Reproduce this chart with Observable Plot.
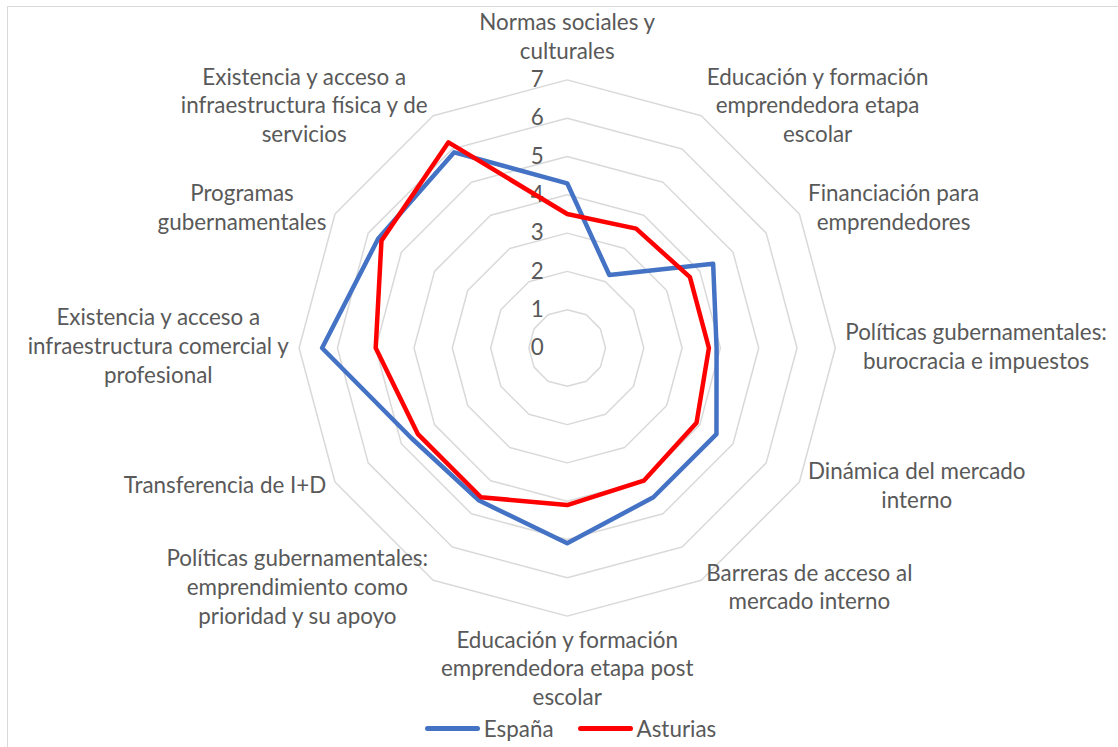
<!DOCTYPE html>
<html>
<head>
<meta charset="utf-8">
<script src="https://cdn.jsdelivr.net/npm/d3@7"></script>
<script src="https://cdn.jsdelivr.net/npm/@observablehq/plot@0.6"></script>
<style>
  body { margin: 0; background: #fff; font-family: Lato, sans-serif; }
  #wrap { position: relative; width: 1118px; height: 747px; overflow: hidden; background: #fff; }
  #frame { position: absolute; left: 7px; top: 6px; right: -20px; bottom: -20px;
           border-left: 1.5px solid #d9d9d9; border-top: 1.5px solid #d9d9d9; }
  #chart { position: absolute; left: 0; top: 0; }
  #legend { position: absolute; left: 23px; width: 1095px; top: 712px; height: 32px;
            display: flex; justify-content: center; align-items: center;
            color: #595959; font-family: Lato, sans-serif; }
  .sw { display: inline-block; width: 55px; height: 5px; border-radius: 3px; margin-right: 4px; }
  .item { display: flex; align-items: center; margin: 0 12px; }
</style>
</head>
<body>
<div id="wrap"><div id="frame"></div><div id="chart"></div><div id="legend"></div></div>
<script>
const categories = [
  "Normas sociales y\nculturales",
  "Educación y formación\nemprendedora etapa\nescolar",
  "Financiación para\nemprendedores",
  "Políticas gubernamentales:\nburocracia e impuestos",
  "Dinámica del mercado\ninterno",
  "Barreras de acceso al\nmercado interno",
  "Educación y formación\nemprendedora etapa post\nescolar",
  "Políticas gubernamentales:\nemprendimiento como\nprioridad y su apoyo",
  "Transferencia de I+D",
  "Existencia y acceso a\ninfraestructura comercial y\nprofesional",
  "Programas\ngubernamentales",
  "Existencia y acceso a\ninfraestructura física y de\nservicios"
];
const espana   = [4.3, 2.2, 4.4, 3.9, 4.5, 4.5, 5.1, 4.6, 4.7, 6.4, 5.7, 5.9];
const asturias = [3.5, 3.6, 3.7, 3.7, 3.9, 4.0, 4.1, 4.5, 4.5, 5.0, 5.6, 6.2];
const ticks = [0, 1, 2, 3, 4, 5, 6, 7];
const seriesNames = ["España", "Asturias"];
const seriesColors = ["#4472C4", "#FF0000"];

// layout
const W = 1118, H = 712, CX = 566.7, CY = 347.5, K = 38.3;
const FONTFAM = "Lato", TXT = "#595959";
const ctx = document.createElement("canvas").getContext("2d");
ctx.font = `20px ${FONTFAM}`;
// size the substitute font so a long label spans about the same width as in the reference
const FONT = Math.round(20 * 262 / ctx.measureText("Políticas gubernamentales:").width * 10) / 10;
ctx.font = `${FONT}px ${FONTFAM}`;
const LH = 28.8 / FONT;
document.getElementById("legend").style.fontSize = FONT + "px";

const n = categories.length;
const maxV = d3.max(ticks);
const ang = i => i * 2 * Math.PI / n;

// grid polygons
const grid = [];
ticks.filter(t => t > 0).forEach(t => categories.forEach((c, i) => grid.push({level: t, x: t * Math.sin(ang(i)), y: t * Math.cos(ang(i))})));

// series
const series = [];
[espana, asturias].forEach((arr, s) => arr.forEach((v, i) => series.push({series: seriesNames[s], x: v * Math.sin(ang(i)), y: v * Math.cos(ang(i))})));

// labels
const off = 10 / K;
const labels = categories.map((c, i) => {
  const a = ang(i), s = Math.sin(a), co = Math.cos(a);
  const ax = (maxV + off) * s, ay = (maxV + off) * co;
  const w = d3.max(c.split("\n"), l => ctx.measureText(l).width);
  const side = Math.abs(s) > 1e-6 ? Math.sign(s) : 0;
  const pos = side !== 0 ? "side" : (co > 0 ? "top" : "bottom");
  return {text: c, pos, x: ax + side * (w / 2) / K, y: ay};
});

const textOpts = {x: "x", y: "y", text: "text", textAnchor: "middle", lineHeight: LH,
  fontSize: FONT, fontFamily: FONTFAM, fill: TXT};

const chart = Plot.plot({
  width: W, height: H,
  marginTop: 0, marginBottom: 0, marginLeft: 0, marginRight: 0,
  x: {domain: [-CX / K, (W - CX) / K], axis: null},
  y: {domain: [-(H - CY) / K, CY / K], axis: null},
  color: {domain: seriesNames, range: seriesColors},
  style: {background: "transparent", fontFamily: FONTFAM},
  marks: [
    Plot.line(grid, {x: "x", y: "y", z: "level", curve: "linear-closed", stroke: "#d9d9d9", strokeWidth: 1.5}),
    Plot.text(ticks, {x: 0, y: d => d, text: d => String(d), dx: -30, textAnchor: "middle", fontSize: FONT, fontFamily: FONTFAM, fill: TXT}),
    Plot.line(series, {x: "x", y: "y", z: "series", stroke: "series", curve: "linear-closed", strokeWidth: 4.5, strokeLinejoin: "round"}),
    Plot.text(labels.filter(d => d.pos === "side"), {...textOpts, lineAnchor: "middle", dy: -3}),
    Plot.text(labels.filter(d => d.pos === "top"), {...textOpts, lineAnchor: "bottom", dy: -11}),
    Plot.text(labels.filter(d => d.pos === "bottom"), {...textOpts, lineAnchor: "top", dy: 1})
  ]
});
document.getElementById("chart").appendChild(chart);

const legend = document.getElementById("legend");
seriesNames.forEach((nm, i) => {
  const it = document.createElement("div");
  it.className = "item";
  const sw = document.createElement("span");
  sw.className = "sw";
  sw.style.background = seriesColors[i];
  it.appendChild(sw);
  it.appendChild(document.createTextNode(nm));
  legend.appendChild(it);
});
</script>
</body>
</html>
